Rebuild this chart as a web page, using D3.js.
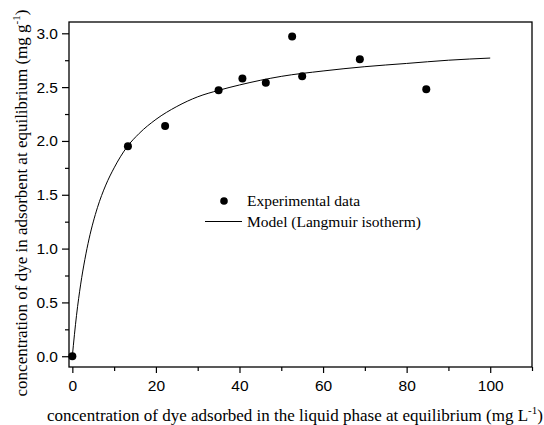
<!DOCTYPE html>
<html>
<head>
<meta charset="utf-8">
<script src="https://cdn.jsdelivr.net/npm/d3@7"></script>
<style>
  body { margin: 0; background: #fff; }
  svg { display: block; }
</style>
</head>
<body>
<svg id="chart" width="544" height="425"></svg>
<script>
// experimental points
const ceData = [0, 13.3, 22.2, 35.0, 40.7, 46.3, 52.6, 55.0, 68.8, 84.7];
const qeData = [0, 1.95, 2.14, 2.47, 2.58, 2.54, 2.97, 2.60, 2.76, 2.48];

// model curve (Langmuir isotherm)
const modelC = [0, 0.5, 1, 2, 3, 4, 6, 8, 10, 13, 16, 20, 25, 30, 35, 40, 50, 60, 70, 80, 90, 100];
const modelQ = [0, 0.20, 0.38, 0.67, 0.90, 1.09, 1.38, 1.59, 1.75, 1.94, 2.07, 2.20, 2.32, 2.41, 2.47, 2.52, 2.60, 2.65, 2.69, 2.72, 2.75, 2.77];

const xTicks = [0, 20, 40, 60, 80, 100];
const yTicks = [0, 0.5, 1.0, 1.5, 2.0, 2.5, 3.0];

const margin = {left: 69, right: 12, top: 22, bottom: 58};
const width = 544 - margin.left - margin.right;
const height = 425 - margin.top - margin.bottom;

const x = d3.scaleLinear().domain([-0.8, 110]).range([0, width]);
const y = d3.scaleLinear().domain([-0.1, 3.105]).range([height, 0]);

const svg = d3.select('svg#chart');
const g = svg.append('g').attr('transform', `translate(${margin.left},${margin.top})`);

// minor ticks
g.append('g')
  .attr('transform', `translate(0,${height})`)
  .call(d3.axisBottom(x).tickValues([10, 30, 50, 70, 90, 110]).tickSize(4).tickFormat(''))
  .call(a => a.select('.domain').remove());
g.append('g')
  .call(d3.axisLeft(y).tickValues([0.25, 0.75, 1.25, 1.75, 2.25, 2.75]).tickSize(4).tickFormat(''))
  .call(a => a.select('.domain').remove());

const xAxis = g.append('g')
  .attr('transform', `translate(0,${height})`)
  .call(d3.axisBottom(x).tickValues(xTicks).tickSize(6).tickPadding(6.5).tickFormat(d3.format('d')));
const yAxis = g.append('g')
  .call(d3.axisLeft(y).tickValues(yTicks).tickSize(7).tickPadding(4).tickFormat(d3.format('.1f')));

[xAxis, yAxis].forEach(a => {
  a.selectAll('.domain').remove();
  a.selectAll('text').style('font-family', '"Liberation Sans", Arial, sans-serif').style('font-size', '15.5px').attr('fill', '#000');
});
g.selectAll('.tick line').attr('stroke', '#000').attr('stroke-width', 1.2);

// frame
g.append('rect')
  .attr('width', width).attr('height', height)
  .attr('fill', 'none').attr('stroke', '#000').attr('stroke-width', 1.3);

// model line
const line = d3.line()
  .x((d, i) => x(modelC[i]))
  .y(d => y(d))
  .curve(d3.curveMonotoneX);
g.append('path')
  .datum(modelQ)
  .attr('d', line)
  .attr('fill', 'none').attr('stroke', '#000').attr('stroke-width', 1);

// points
g.selectAll('circle.pt').data(qeData)
  .enter().append('circle')
    .attr('class', 'pt')
    .attr('cx', (d, i) => x(ceData[i]))
    .attr('cy', d => y(d))
    .attr('r', 4)
    .attr('fill', '#000');

// legend
const leg = svg.append('g').style('font-family', '"Liberation Serif", "Times New Roman", serif').style('font-size', '15.5px');
leg.append('circle').attr('cx', 224).attr('cy', 201).attr('r', 3.8).attr('fill', '#000');
leg.append('text').attr('x', 247).attr('y', 206).text('Experimental data');
leg.append('line').attr('x1', 205).attr('x2', 242).attr('y1', 221.5).attr('y2', 221.5).attr('stroke', '#000');
leg.append('text').attr('x', 247).attr('y', 226.5).text('Model (Langmuir isotherm)');

// axis titles
const titleFont = '"Liberation Serif", "Times New Roman", serif';
const xt = svg.append('text')
  .attr('x', 295).attr('y', 421)
  .attr('text-anchor', 'middle')
  .style('font-family', titleFont).style('font-size', '17px');
xt.append('tspan').text('concentration of dye adsorbed in the liquid phase at equilibrium (mg L');
xt.append('tspan').attr('dy', -7).style('font-size', '11px').text('-1');
xt.append('tspan').attr('dy', 7).text(')');

const yt = svg.append('text')
  .attr('transform', 'translate(27,203) rotate(-90)')
  .attr('text-anchor', 'middle')
  .style('font-family', titleFont).style('font-size', '17px');
yt.append('tspan').text('concentration of dye in adsorbent at equilibrium (mg g');
yt.append('tspan').attr('dy', -7).style('font-size', '11px').text('-1');
yt.append('tspan').attr('dy', 7).text(')');
</script>
</body>
</html>
